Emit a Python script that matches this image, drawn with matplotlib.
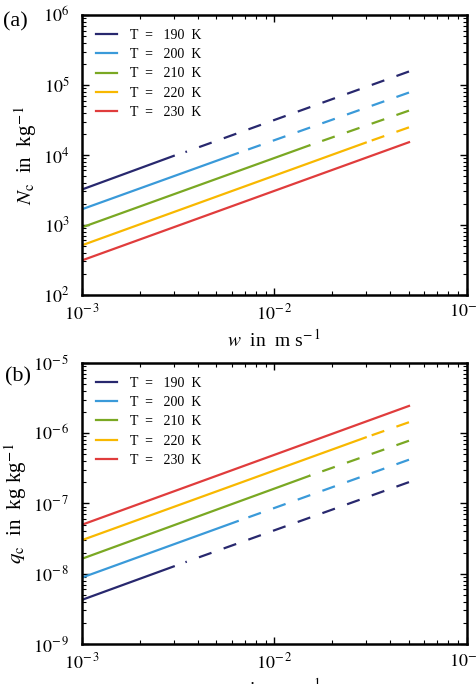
import math
import matplotlib
matplotlib.use("Agg")
import matplotlib.pyplot as plt
from matplotlib.ticker import LogLocator, FuncFormatter, NullFormatter

plt.rcParams['font.family'] = ['Liberation Serif', 'DejaVu Serif']
plt.rcParams['mathtext.fontset'] = 'stix'

# temperatures and colours
temps = [190, 200, 210, 220, 230]
colors = ['#28286e', '#3a9ad9', '#7aa823', '#f8b800', '#e03c3c']

# updraft speed w in m/s
w_start = 1e-3
w_end = 5e-2
w_crit = [3.0e-3, 6.45e-3, 1.52e-2, 2.98e-2, 5e-2]     # end of solid part
w_dash = [3.45e-3, 6.45e-3, 1.52e-2, 2.98e-2, 5e-2]    # start of dashed part

# (a) ice crystal number N_c in 1/kg
nc_start = [3.2e3, 1.67e3, 9.2e2, 5.1e2, 3.1e2]
nc_crit = [9.7e3, 1.06e4, 1.37e4, 1.5e4, 1.52e4]
nc_dash = [1.1e4, 1.06e4, 1.37e4, 1.5e4, 1.52e4]
nc_end = [1.56e5, 7.8e4, 4.3e4, 2.48e4, 1.52e4]

# (b) ice mass mixing ratio q_c in kg/kg
qc_start = [4.24e-9, 8.8e-9, 1.63e-8, 3.0e-8, 4.97e-8]
qc_crit = [1.27e-8, 5.6e-8, 2.47e-7, 8.7e-7, 2.44e-6]
qc_dash = [1.46e-8, 5.6e-8, 2.47e-7, 8.7e-7, 2.44e-6]
qc_end = [2.01e-7, 4.19e-7, 7.8e-7, 1.43e-6, 2.44e-6]


def pow_label(v, pos):
    e = int(round(math.log10(v)))
    if e < 0:
        return r'$10^{-\,%d}$' % (-e)
    return r'$10^{%d}$' % e


def draw_panel(ax, start, crit, dash, end, ylim, ylabel):
    for i, T in enumerate(temps):
        ax.plot([w_start, w_crit[i]], [start[i], crit[i]], color=colors[i],
                lw=1.6, label='T  =   %d  K' % T)
        if w_dash[i] < w_end:
            # drawn from the right end so every line finishes with a dash
            ax.plot([w_end, w_dash[i]], [end[i], dash[i]], color=colors[i],
                    lw=1.6, ls=(0, (6.0, 5.8)))
    ax.set_xscale('log')
    ax.set_yscale('log')
    ax.set_xlim(1e-3, 1e-1)
    ax.set_ylim(*ylim)
    ax.xaxis.set_major_locator(LogLocator(base=10, numticks=10))
    ax.yaxis.set_major_locator(LogLocator(base=10, numticks=10))
    ax.xaxis.set_minor_locator(LogLocator(base=10, subs=range(2, 10), numticks=20))
    ax.yaxis.set_minor_locator(LogLocator(base=10, subs=range(2, 10), numticks=20))
    ax.xaxis.set_major_formatter(FuncFormatter(pow_label))
    ax.yaxis.set_major_formatter(FuncFormatter(pow_label))
    ax.xaxis.set_minor_formatter(NullFormatter())
    ax.yaxis.set_minor_formatter(NullFormatter())
    ax.tick_params(which='both', direction='in', top=True, right=True,
                   labelsize=13)
    ax.tick_params(axis='y', pad=9)
    ax.tick_params(axis='x', pad=6)
    ax.tick_params(which='major', length=5, width=1.0)
    ax.tick_params(which='minor', length=3, width=0.8)
    for s in ax.spines.values():
        s.set_linewidth(1.8)
    ax.set_xlabel(r'$w$  in  m s$^{-\,1}$', fontsize=14, labelpad=4)
    ax.set_ylabel(ylabel, fontsize=15, labelpad=3)
    ax.legend(loc='upper left', frameon=False, fontsize=10, handlelength=1.5,
              handletextpad=1.0, labelspacing=0.45, borderaxespad=0.6)


fig = plt.figure(figsize=(4.76, 6.84), dpi=100)
ax1 = fig.add_axes([0.172, 0.569, 0.809, 0.409])
ax2 = fig.add_axes([0.172, 0.0585, 0.809, 0.411])

draw_panel(ax1, nc_start, nc_crit, nc_dash, nc_end, (1e2, 1e6),
           r'$N_\mathrm{c}$  in  kg$^{-\,1}$')
draw_panel(ax2, qc_start, qc_crit, qc_dash, qc_end, (1e-9, 1e-5),
           r'$q_\mathrm{c}$  in  kg kg$^{-\,1}$')

fig.text(0.006, 0.968, '(a)', fontsize=16, ha='left', va='center')
fig.text(0.010, 0.449, '(b)', fontsize=16, ha='left', va='center')

fig.savefig('out.png', dpi=100)
